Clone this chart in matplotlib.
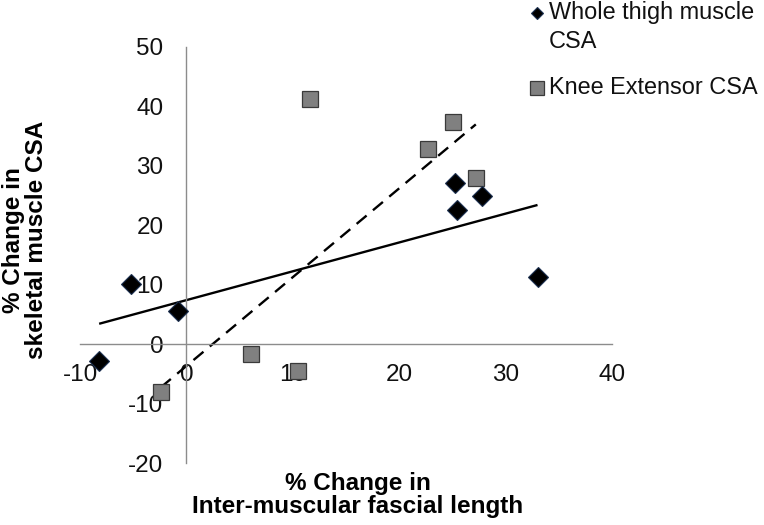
import numpy as np
import matplotlib
matplotlib.use("Agg")
import matplotlib.pyplot as plt
from matplotlib.lines import Line2D

plt.rcParams['font.family'] = ['Liberation Sans', 'DejaVu Sans']
plt.rcParams['axes.unicode_minus'] = False

# Data
thigh_x = [-8.2, -5.2, -0.8, 25.2, 25.4, 27.8, 33.0]
thigh_y = [-2.8, 10.2, 5.6, 27.1, 22.6, 25.0, 11.3]
knee_x = [11.6, 25.1, 22.75, 27.2, 6.1, 10.5, -2.4]
knee_y = [41.2, 37.3, 32.8, 27.9, -1.6, -4.6, -8.0]

x_ticks = [-10, 0, 10, 20, 30, 40]
y_ticks = [-20, -10, 0, 10, 20, 30, 40, 50]

label_thigh = "Whole thigh muscle\nCSA"
label_knee = "Knee Extensor CSA"
xlabel = "% Change in\nInter-muscular fascial length"
ylabel = "% Change in\nskeletal muscle CSA"

W, H = 764, 525
fig = plt.figure(figsize=(W / 100, H / 100), dpi=100)
ax = fig.add_axes([80 / W, 1 - 463 / H, (612 - 80) / W, (463 - 47) / H])

ax.set_xlim(-10, 40)
ax.set_ylim(-20, 50)
ax.set_xticks(x_ticks)
ax.set_yticks(y_ticks)

for s in ['top', 'right']:
    ax.spines[s].set_visible(False)
ax.spines['left'].set_position(('data', 0))
ax.spines['bottom'].set_position(('data', 0))
for s in ['left', 'bottom']:
    ax.spines[s].set_color('#8c8c8c')
    ax.spines[s].set_linewidth(1.0)

ax.tick_params(axis='x', length=0, pad=14.5, labelsize=17.5, labelcolor='#111111')
ax.tick_params(axis='y', length=0, pad=16.5, labelsize=17.5, labelcolor='#111111')

# Trendlines (linear fits)
def trend(xs, ys):
    xs = np.asarray(xs)
    ys = np.asarray(ys)
    k, b = np.polyfit(xs, ys, 1)
    xx = np.array([xs.min(), xs.max()])
    return xx, k * xx + b

tx, ty = trend(thigh_x, thigh_y)
ax.plot(tx, ty, color='black', lw=1.7, zorder=2, solid_capstyle='butt')
kx, ky = trend(knee_x, knee_y)
ax.plot(kx, ky, color='black', lw=1.7, dashes=(5.5, 3.5), zorder=2)

ax.plot(knee_x, knee_y, linestyle='none', marker='s', ms=12,
        markerfacecolor='#808080', markeredgecolor='#3a3a3a', markeredgewidth=0.9,
        zorder=3, clip_on=False)
ax.plot(thigh_x, thigh_y, linestyle='none', marker='D', ms=10,
        markerfacecolor='black', markeredgecolor='#1b2f4f', markeredgewidth=0.8,
        zorder=4, clip_on=False)

# Legend (manual, to place the marker on the first text line)
LEG_FS = 16.9
fig.add_artist(Line2D([537 / W], [1 - 13 / H], transform=fig.transFigure,
                      marker='D', ms=6.5, markerfacecolor='black',
                      markeredgecolor='#1b2f4f', markeredgewidth=0.8, linestyle='none'))
fig.text(549 / W, 1 - 13 / H, "Whole thigh muscle", fontsize=LEG_FS,
         ha='left', va='center', color='#111111')
fig.text(549 / W, 1 - 41 / H, "CSA", fontsize=LEG_FS,
         ha='left', va='center', color='#111111')
fig.add_artist(Line2D([537 / W], [1 - 88 / H], transform=fig.transFigure,
                      marker='s', ms=9.5, markerfacecolor='#808080',
                      markeredgecolor='#3a3a3a', markeredgewidth=0.9, linestyle='none'))
fig.text(549 / W, 1 - 88 / H, label_knee, fontsize=LEG_FS,
         ha='left', va='center', color='#111111')

# Axis titles
fig.text(358 / W, 1 - 495 / H, xlabel, fontsize=17.5, fontweight='bold',
         ha='center', va='center', multialignment='center', linespacing=1.05)
fig.text(25 / W, 1 - 240 / H, ylabel, fontsize=17.5, fontweight='bold',
         ha='center', va='center', rotation=90, multialignment='center',
         linespacing=1.05)

fig.savefig('out.png', dpi=100)
